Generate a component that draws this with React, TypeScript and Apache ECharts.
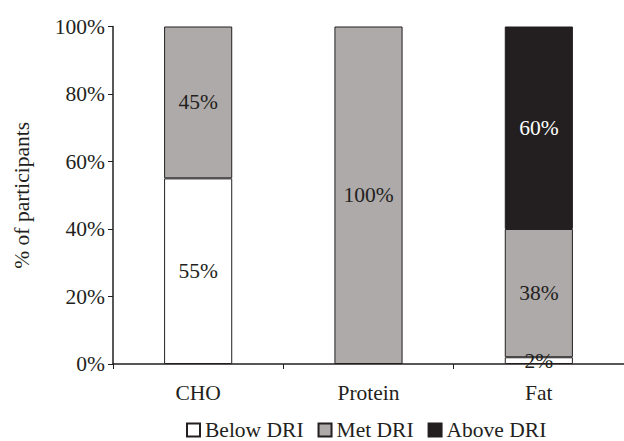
import React, { useEffect, useRef } from "react";
import * as echarts from "echarts";

const categories = ["CHO", "Protein", "Fat"];
const belowDRI = [55, 0, 2];
const metDRI = [45, 100, 38];
const aboveDRI = [0, 0, 60];
const seriesNames = ["Below DRI", "Met DRI", "Above DRI"];
const yTicks = [0, 20, 40, 60, 80, 100];

const TXT = "#231f20";
const FONT = "'Liberation Serif', 'DejaVu Serif', serif";
const FS = 21.5;

export default function App() {
  const ref = useRef<HTMLDivElement>(null);
  useEffect(() => {
    if (!ref.current) return;
    const chart = echarts.init(ref.current, undefined, { renderer: "svg" });
    const colors = ["#ffffff", "#aeaaaa", "#231f20"];
    const datas = [belowDRI, metDRI, aboveDRI];
    const labelColors = [TXT, TXT, "#ffffff"];
    chart.setOption({
      animation: false,
      textStyle: { fontFamily: FONT },
      grid: { left: 113, right: 0, top: 26.5, bottom: 77, containLabel: false },
      legend: {
        top: 419,
        left: 186,
        padding: 0,
        itemWidth: 13,
        itemHeight: 13,
        itemGap: 14,
        icon: "rect",
        textStyle: { fontFamily: FONT, fontSize: FS, color: TXT, lineHeight: 20 },
        data: seriesNames,
      },
      xAxis: {
        type: "category",
        data: categories,
        axisLine: { lineStyle: { color: TXT, width: 1.5 } },
        axisTick: { show: true, length: 5, lineStyle: { color: TXT } },
        axisLabel: { fontFamily: FONT, fontSize: FS, color: TXT, margin: 18 },
      },
      yAxis: {
        type: "value",
        min: 0,
        max: 100,
        interval: 20,
        name: "% of participants",
        nameLocation: "middle",
        nameGap: 80,
        nameTextStyle: { fontFamily: FONT, fontSize: FS, color: TXT },
        axisLine: { show: true, lineStyle: { color: TXT, width: 1.5 } },
        axisTick: { show: true, length: 5, lineStyle: { color: TXT } },
        splitLine: { show: false },
        axisLabel: {
          fontFamily: FONT,
          fontSize: FS,
          color: TXT,
          margin: 8,
          formatter: (v: number) => (yTicks.includes(v) ? v + "%" : ""),
        },
      },
      series: seriesNames.map((name, i) => ({
        name,
        type: "bar",
        stack: "total",
        barWidth: "40%",
        data: datas[i].map((v) => (v === 0 ? null : v)),
        itemStyle: { color: colors[i], borderColor: TXT, borderWidth: 1 },
        label: {
          show: true,
          position: "inside",
          fontFamily: FONT,
          fontSize: FS,
          color: labelColors[i],
          formatter: (p: any) => p.value + "%",
        },
      })),
    });
    return () => chart.dispose();
  }, []);
  return (
    <div
      ref={ref}
      style={{ position: "absolute", left: 0, top: 0, width: 624, height: 441 }}
    />
  );
}
